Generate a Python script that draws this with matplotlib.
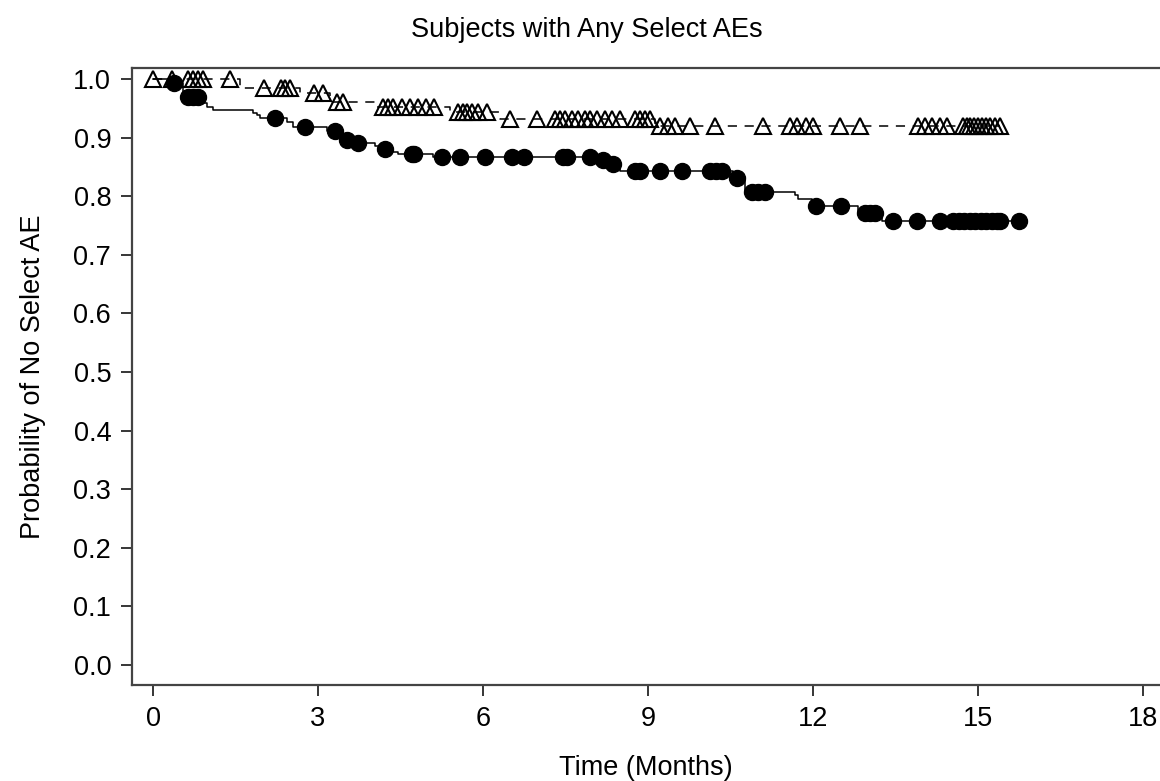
import matplotlib.pyplot as plt
import numpy as np

plt.rcParams['font.family'] = ['Liberation Sans', 'DejaVu Sans']

# group with open triangles (dashed line): event times and survival after the event
tri_event_t = [1.58, 2.67, 3.22, 4.04, 5.40, 6.31, 9.13]
tri_event_s = [0.985, 0.976, 0.960, 0.952, 0.944, 0.932, 0.920]
tri_cens_t = [0.0, 0.35, 0.64, 0.73, 0.82, 0.91, 1.40,
              2.02, 2.33, 2.40, 2.49,
              2.93, 3.09,
              3.35, 3.45,
              4.18, 4.27, 4.36, 4.53, 4.67, 4.82, 4.96, 5.11,
              5.55, 5.64, 5.71, 5.80, 5.91, 6.07,
              6.49, 6.98, 7.31, 7.40, 7.49, 7.62, 7.73, 7.85, 7.95, 8.07, 8.22, 8.35, 8.49,
              8.76, 8.85, 8.95, 9.04,
              9.22, 9.36, 9.49, 9.76, 10.22, 11.09, 11.58, 11.71, 11.87, 12.0,
              12.49, 12.85, 13.91, 14.04, 14.16, 14.31, 14.44,
              14.73, 14.80, 14.85, 14.93, 15.0, 15.07, 15.15, 15.22, 15.31, 15.40]

# group with filled circles (solid line)
dot_event_t = [0.27, 0.55, 0.89, 0.98, 1.09, 1.82, 1.89, 1.95, 2.44, 2.55,
               3.16, 3.40, 3.62, 4.04, 4.13, 4.36, 4.45, 5.09,
               8.13, 8.31, 8.49, 10.55, 10.76, 11.67, 11.73, 11.98, 12.82, 13.25]
dot_event_s = [0.993, 0.969, 0.959, 0.953, 0.947, 0.942, 0.938, 0.933, 0.926, 0.918,
               0.912, 0.896, 0.891, 0.886, 0.881, 0.876, 0.872, 0.867,
               0.861, 0.855, 0.843, 0.831, 0.807, 0.802, 0.795, 0.783, 0.771, 0.757]
dot_cens_t = [0.38, 0.64, 0.73, 0.82,
              2.22, 2.76, 3.31, 3.53, 3.73, 4.22, 4.71, 4.75, 5.25, 5.58,
              6.04, 6.53, 6.75, 7.45, 7.53, 7.95, 8.18, 8.36,
              8.76, 8.85, 9.22, 9.62, 10.13, 10.24, 10.35, 10.62,
              10.89, 11.0, 11.13, 12.05, 12.51, 12.95, 13.04, 13.13,
              13.45, 13.89, 14.31, 14.55, 14.65, 14.75, 14.85, 14.95, 15.05, 15.15, 15.25,
              15.35, 15.40, 15.75]


def km_curve(ev_t, ev_s, end_t):
    t = [0.0] + list(ev_t) + [end_t]
    s = [1.0] + list(ev_s) + [ev_s[-1]]
    return np.array(t), np.array(s)


def surv_at(times, ev_t, ev_s):
    full_t = np.array([0.0] + list(ev_t))
    full_s = np.array([1.0] + list(ev_s))
    idx = np.searchsorted(full_t, times, side='right') - 1
    return full_s[idx]


fig = plt.figure(figsize=(11.6, 7.81), dpi=100)
ax = fig.add_axes([0.1138, 0.1229, 0.8862, 0.79])

t1, s1 = km_curve(tri_event_t, tri_event_s, max(tri_cens_t))
ax.step(t1, s1, where='post', color='black', lw=1.1, ls=(0, (6, 5)))
ax.plot(tri_cens_t, surv_at(tri_cens_t, tri_event_t, tri_event_s), ls='none',
        marker='^', ms=11, mfc='none', mec='black', mew=1.5)

t2, s2 = km_curve(dot_event_t, dot_event_s, max(dot_cens_t))
ax.step(t2, s2, where='post', color='black', lw=1.1)
ax.plot(dot_cens_t, surv_at(dot_cens_t, dot_event_t, dot_event_s), ls='none',
        marker='o', ms=11.5, mfc='black', mec='black')

ax.set_xlim(-0.382, 18.31)
ax.set_ylim(-0.0341, 1.0188)
ax.set_xticks([0, 3, 6, 9, 12, 15, 18])
ax.set_yticks(np.arange(0, 1.01, 0.1))
ax.set_yticklabels(['%.1f' % v for v in np.arange(0, 1.01, 0.1)])
ax.tick_params(axis='both', direction='out', length=8, width=1.1, labelsize=19.5, pad=7)
ax.tick_params(axis='y', pad=7)
for side in ['left', 'top', 'bottom']:
    ax.spines[side].set_color('#444444')
    ax.spines[side].set_linewidth(1.6)
ax.spines['right'].set_visible(False)

ax.set_xlabel('Time (Months)', fontsize=19.5, labelpad=17)
ax.set_ylabel('Probability of No Select AE', fontsize=19.5, labelpad=20)
fig.text(0.506, 0.962, 'Subjects with Any Select AEs', ha='center', va='center', fontsize=19.5)

plt.savefig('out.png', dpi=100)
